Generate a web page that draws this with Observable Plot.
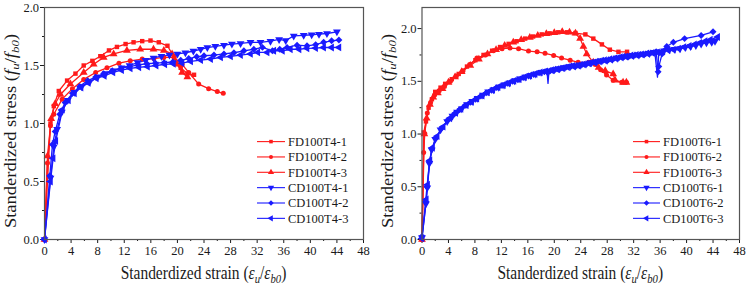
<!DOCTYPE html>
<html><head><meta charset="utf-8">
<script src="https://cdn.jsdelivr.net/npm/d3@7"></script>
<script src="https://cdn.jsdelivr.net/npm/@observablehq/plot@0.6"></script>
<style>
html,body{margin:0;padding:0;background:#fff;}
#wrap{display:flex;width:746px;height:286px;overflow:hidden;}
#wrap svg{flex:none;}
</style></head><body><div id="wrap"></div>
<script>
// ---------- data ----------
const xTicks = [0,4,8,12,16,20,24,28,32,36,40,44,48];
const xMinorTicks = [2,6,10,14,18,22,26,30,34,38,42,46];
const yTicks = [0,0.5,1.0,1.5,2.0];
const yMinorTicks = [0.25,0.75,1.25,1.75];

const namesT4 = ["FD100T4-1","FD100T4-2","FD100T4-3","CD100T4-1","CD100T4-2","CD100T4-3"];
const namesT6 = ["FD100T6-1","FD100T6-2","FD100T6-3","CD100T6-1","CD100T6-2","CD100T6-3"];

const fd100t4_1 = [[0,0],[0.9,1.0],[1.4,1.15],[2.15,1.28],[3.4,1.37],[4.66,1.43],[5.9,1.50],[7.2,1.54],[8.4,1.58],[9.7,1.63],[10.9,1.66],[12.2,1.685],[13.4,1.70],[14.7,1.71],[15.95,1.715],[17.2,1.70],[18.5,1.67],[19.5,1.57],[20.5,1.48],[21.5,1.43],[22.5,1.42]];
const fd100t4_2 = [[0,0],[0.45,0.66],[0.9,0.98],[1.4,1.08],[2.66,1.21],[4.2,1.30],[5.9,1.38],[7.7,1.44],[9.4,1.48],[11.2,1.52],[12.9,1.54],[14.7,1.555],[16.45,1.56],[17.96,1.57],[19.5,1.57],[20.7,1.51],[21.7,1.44],[23.2,1.34],[24.7,1.30],[26,1.275],[26.9,1.26]];
const fd100t4_3 = [[0,0],[0.45,0.72],[1.0,1.04],[1.6,1.17],[2.4,1.25],[3.9,1.34],[5.9,1.44],[7.4,1.51],[8.9,1.57],[10.4,1.60],[12.4,1.63],[14.4,1.64],[16.4,1.64],[17.96,1.63],[19.2,1.60],[19.97,1.51],[20.7,1.44],[21.5,1.40]];
const cd100t4_1 = [[0,0],[0.9,0.53],[1.4,0.8],[1.9,0.95],[2.6,1.1],[3.5,1.2],[4.5,1.27],[5.6,1.32],[6.8,1.36],[8,1.40],[9.2,1.43],[10.4,1.455],[11.6,1.48],[12.8,1.50],[14,1.525],[15.2,1.545],[16.4,1.565],[17.6,1.58],[18.8,1.59],[20,1.60],[21.2,1.61],[22.4,1.625],[23.5,1.64],[24.5,1.655],[25.7,1.665],[27,1.675],[28.2,1.685],[29.5,1.69],[31,1.70],[32.5,1.70],[34,1.71],[35.3,1.725],[36.3,1.715],[37.5,1.755],[39,1.76],[40.2,1.765],[41.3,1.77],[42.5,1.776],[44,1.79]];
const cd100t4_2 = [[0,0],[0.8,0.55],[1.2,0.82],[1.6,0.93],[2.3,1.08],[3.1,1.18],[4.2,1.26],[5.3,1.32],[6.5,1.37],[7.7,1.40],[8.9,1.43],[10.2,1.455],[11.5,1.475],[12.8,1.49],[14.1,1.505],[15.4,1.515],[16.7,1.52],[18,1.525],[19.3,1.53],[20.5,1.545],[21.7,1.56],[22.9,1.575],[24,1.584],[25.5,1.59],[27,1.60],[28.5,1.61],[30,1.627],[31.5,1.64],[32.8,1.656],[34.3,1.627],[35.4,1.64],[36.5,1.656],[38,1.675],[39.5,1.67],[40.8,1.68],[42,1.70],[43.2,1.713],[44.3,1.72]];
const cd100t4_3 = [[0,0],[0.9,0.5],[1.3,0.7],[1.7,0.85],[2.7,1.12],[3.6,1.2],[4.5,1.26],[5.5,1.31],[6.6,1.35],[7.8,1.39],[9.0,1.41],[10.3,1.44],[11.6,1.46],[12.9,1.475],[14.2,1.485],[15.5,1.49],[16.8,1.50],[18.1,1.51],[19.4,1.515],[20.7,1.52],[22,1.535],[23.5,1.547],[25,1.556],[26.5,1.57],[28,1.578],[29.5,1.59],[31,1.60],[32.1,1.613],[33.5,1.613],[34.5,1.627],[35.8,1.627],[37,1.64],[38.3,1.64],[39.5,1.648],[40.8,1.65],[42,1.655],[43.2,1.655],[44.3,1.656]];

const fd100t6_1 = [[0,0],[0.27,1.015],[0.6,1.12],[1.0,1.25],[1.5,1.33],[2.0,1.40],[2.8,1.44],[3.5,1.476],[4.5,1.52],[5.55,1.57],[6.8,1.64],[8.07,1.70],[9.3,1.75],[10.6,1.79],[11.8,1.825],[13.1,1.855],[14.3,1.88],[15.6,1.905],[16.8,1.925],[18.1,1.945],[19.3,1.955],[20.6,1.965],[21.9,1.965],[23.2,1.958],[24.7,1.945],[25.9,1.905],[27.2,1.85],[28.4,1.80],[29.7,1.78],[31.0,1.78]];
const fd100t6_2 = [[0,0],[0.25,0.825],[0.42,1.006],[0.8,1.2],[1.3,1.30],[1.9,1.37],[2.6,1.41],[3.4,1.45],[4.3,1.50],[5.2,1.55],[6.2,1.60],[7.2,1.66],[8.3,1.72],[9.6,1.75],[10.8,1.79],[12.1,1.81],[13.3,1.815],[14.6,1.81],[16.1,1.787],[17.4,1.78],[18.6,1.765],[19.9,1.745],[21.1,1.72],[22.4,1.70],[23.6,1.68],[25.2,1.68],[26.2,1.66],[27,1.61],[27.9,1.56],[28.9,1.51],[30.2,1.49],[30.9,1.49]];
const fd100t6_3 = [[0,0],[0.35,1.0],[0.7,1.15],[1.2,1.28],[1.7,1.35],[2.4,1.39],[3.1,1.43],[4.0,1.49],[5.0,1.54],[6.0,1.59],[7.3,1.65],[8.6,1.71],[9.9,1.76],[11.2,1.80],[12.5,1.84],[13.8,1.87],[15.0,1.895],[16.3,1.915],[17.5,1.935],[18.8,1.95],[20.0,1.96],[21.2,1.97],[22.3,1.965],[23.2,1.955],[23.9,1.905],[24.4,1.83],[24.9,1.76],[25.9,1.68],[26.7,1.63],[27.7,1.60],[28.9,1.57],[29.2,1.51],[30.4,1.49],[30.9,1.49]];
const cd100t6_1 = [[0,0.02],[0.6,0.34],[0.8,0.49],[1.1,0.72],[1.45,0.85],[2.0,0.95],[2.8,1.04],[3.8,1.12],[4.6,1.17],[5.3,1.21],[6.0,1.24],[6.8,1.28],[7.6,1.31],[8.4,1.34],[9.2,1.37],[10.0,1.40],[10.8,1.42],[11.6,1.445],[12.4,1.465],[13.2,1.485],[14.0,1.505],[14.8,1.525],[15.6,1.54],[16.4,1.555],[17.2,1.57],[18.0,1.585],[18.9,1.595],[19.05,1.48],[19.2,1.60],[20.0,1.61],[20.8,1.62],[21.6,1.63],[22.4,1.64],[23.2,1.645],[24.0,1.655],[24.8,1.665],[25.6,1.675],[26.4,1.685],[27.2,1.695],[28.0,1.70],[28.8,1.71],[29.6,1.72],[30.4,1.73],[31.2,1.74],[32.0,1.745],[32.8,1.75],[33.6,1.76],[34.4,1.765],[35.2,1.775],[35.6,1.54],[35.8,1.78],[36.6,1.79],[37.4,1.80],[38.2,1.805],[39.0,1.81],[39.8,1.82],[40.6,1.83],[41.4,1.84],[42.2,1.855],[43.0,1.865],[43.8,1.87],[44.3,1.88]];
const cd100t6_2 = [[0,0.03],[0.55,0.36],[0.75,0.5],[1.15,0.74],[1.5,0.86],[2.1,0.96],[2.9,1.05],[3.9,1.13],[4.9,1.19],[5.7,1.23],[6.5,1.27],[7.3,1.30],[8.1,1.33],[8.9,1.36],[9.7,1.39],[10.5,1.415],[11.3,1.44],[12.1,1.46],[12.9,1.48],[13.7,1.50],[14.5,1.515],[15.3,1.535],[16.1,1.55],[16.9,1.565],[17.7,1.58],[18.5,1.59],[19.4,1.60],[20.2,1.615],[21.0,1.625],[21.8,1.635],[22.6,1.645],[23.4,1.65],[24.2,1.66],[25.0,1.67],[25.8,1.68],[26.6,1.69],[27.4,1.70],[28.2,1.705],[29.0,1.715],[29.8,1.725],[30.6,1.735],[31.4,1.74],[32.2,1.75],[33.0,1.755],[33.8,1.76],[34.6,1.77],[35.4,1.78],[35.7,1.59],[35.8,1.64],[36.3,1.76],[37.0,1.83],[38.0,1.87],[39.7,1.905],[42.2,1.935],[44.0,1.97]];
const cd100t6_3 = [[0,0.01],[0.65,0.38],[0.85,0.52],[1.2,0.75],[1.6,0.87],[2.3,0.98],[3.2,1.07],[4.2,1.15],[5.1,1.20],[5.9,1.24],[6.7,1.275],[7.5,1.305],[8.3,1.335],[9.1,1.365],[9.9,1.395],[10.7,1.42],[11.5,1.445],[12.3,1.465],[13.1,1.485],[13.9,1.505],[14.7,1.52],[15.5,1.54],[16.3,1.555],[17.1,1.57],[17.9,1.585],[18.7,1.595],[19.6,1.605],[20.4,1.615],[21.2,1.625],[22.0,1.635],[22.8,1.645],[23.6,1.65],[24.4,1.66],[25.2,1.67],[26.0,1.68],[26.8,1.69],[27.6,1.70],[28.4,1.71],[29.2,1.72],[30.0,1.73],[30.8,1.735],[31.6,1.745],[32.4,1.75],[33.2,1.755],[34.0,1.765],[34.8,1.77],[35.6,1.775],[36.4,1.785],[37.2,1.795],[38.0,1.80],[38.8,1.81],[39.6,1.825],[40.4,1.835],[41.2,1.85],[42.0,1.865],[42.8,1.88],[43.6,1.895],[44.7,1.92]];

// ---------- styling ----------
const RED = "#ff1a1a", BLUE = "#1a1aff";
const FONT = "Liberation Serif";

const symbolTriDown = {draw(ctx, size){
  const s = Math.sqrt(4*size/Math.sqrt(3)), h = s*Math.sqrt(3)/2;
  ctx.moveTo(-s/2, -h/3); ctx.lineTo(s/2, -h/3); ctx.lineTo(0, 2*h/3); ctx.closePath();
}};
const symbolTriLeft = {draw(ctx, size){
  const s = Math.sqrt(4*size/Math.sqrt(3)), h = s*Math.sqrt(3)/2;
  ctx.moveTo(-2*h/3, 0); ctx.lineTo(h/3, -s/2); ctx.lineTo(h/3, s/2); ctx.closePath();
}};
const symbols = [d3.symbolSquare, d3.symbolCircle, d3.symbolTriangle, symbolTriDown, d3.symbolDiamond2, symbolTriLeft];
const symbolR = [2.5, 2.5, 2.9, 2.9, 3.1, 2.9];
const colors = [RED, RED, RED, BLUE, BLUE, BLUE];

// a marker is not drawn on a one-sample dip of the recorder (thin spike only)
function isSpike(data, i){
  if (i === 0 || i === data.length - 1) return false;
  return data[i][1] < data[i-1][1] - 0.08 && data[i][1] < data[i+1][1] - 0.08;
}

function makePanel(names, datasets, yMax, mL, mR, legendLineX, legendTextX, yCenter, yLabelX, spikeSeries){
  const W = 373, H = 286;
  const marks = [
    Plot.axisX({ticks: xTicks, tickSize: 4, tickPadding: 3, label: null, fontSize: 12.5}),
    Plot.axisX({ticks: xMinorTicks, tickSize: 2, tickFormat: () => "", label: null}),
    Plot.axisY({ticks: yTicks, tickSize: 4, tickPadding: 1.5, label: null, fontSize: 12.5, tickFormat: d3.format(".1f")}),
    Plot.axisY({ticks: yMinorTicks, tickSize: 2, tickFormat: () => "", label: null}),
  ];
  datasets.forEach((data, i) => {
    marks.push(Plot.line(data, {x: d => d[0], y: d => d[1], stroke: colors[i], strokeWidth: 1.3}));
  });
  datasets.forEach((data, i) => {
    const filt = spikeSeries.includes(i) ? data.filter((d, j) => !isSpike(data, j)) : data;
    marks.push(Plot.dot(filt, {x: d => d[0], y: d => d[1], symbol: symbols[i], fill: colors[i], stroke: "none", r: symbolR[i]}));
  });
  marks.push(Plot.frame({stroke: "#555", strokeWidth: 1.2}));
  const svg = Plot.plot({
    width: W, height: H,
    marginLeft: mL, marginRight: mR, marginTop: 7, marginBottom: 47,
    style: `color:#1a1a1a;background:#fff;overflow:visible;font-family:'${FONT}';`,
    x: {domain: [0, 48]},
    y: {domain: [0, yMax]},
    marks
  });
  const g = d3.select(svg);
  g.attr("font-family", FONT);
  // legend
  const rowY0 = 141.6, dy = 15.35;
  names.forEach((name, i) => {
    const y = rowY0 + i*dy;
    g.append("line").attr("x1", legendLineX[0]).attr("x2", legendLineX[1]).attr("y1", y).attr("y2", y)
      .attr("stroke", colors[i]).attr("stroke-width", 1.1);
    g.append("path").attr("transform", `translate(${(legendLineX[0]+legendLineX[1])/2},${y})`)
      .attr("d", d3.symbol(symbols[i], Math.PI*Math.pow(symbolR[i]*0.8,2))()).attr("fill", colors[i]);
    g.append("text").attr("x", legendTextX).attr("y", y + 4.4).attr("font-size", 12.5)
      .attr("text-anchor", "start").attr("fill", "#1a1a1a").text(name);
  });
  // x title (horizontally condensed like the source figure)
  const xc = (mL + (W - mR)) / 2;
  const xt = g.append("text").attr("transform", `translate(${xc},279) scale(0.86,1)`)
    .attr("text-anchor", "middle").attr("font-size", 18).attr("fill", "#1a1a1a");
  xt.append("tspan").text("Standerdized strain (");
  xt.append("tspan").attr("font-style", "italic").text("ε");
  xt.append("tspan").attr("font-style", "italic").attr("font-size", 12.5).attr("dy", 3.5).text("u");
  xt.append("tspan").attr("dy", -3.5).text("/");
  xt.append("tspan").attr("font-style", "italic").text("ε");
  xt.append("tspan").attr("font-style", "italic").attr("font-size", 12.5).attr("dy", 3.5).text("b0");
  xt.append("tspan").attr("dy", -3.5).text(")");
  // y title
  const yt = g.append("text").attr("transform", `translate(${yLabelX},${yCenter}) scale(0.86,1) rotate(-90)`)
    .attr("text-anchor", "middle").attr("font-size", 18.5).attr("fill", "#1a1a1a");
  yt.append("tspan").text("Standerdized stress (");
  yt.append("tspan").attr("font-style", "italic").text("f");
  yt.append("tspan").attr("font-style", "italic").attr("font-size", 13).attr("dy", 3.5).text("u");
  yt.append("tspan").attr("dy", -3.5).text("/");
  yt.append("tspan").attr("font-style", "italic").text("f");
  yt.append("tspan").attr("font-style", "italic").attr("font-size", 13).attr("dy", 3.5).text("b0");
  yt.append("tspan").attr("dy", -3.5).text(")");
  g.selectAll("text").attr("font-family", FONT).style("font-family", `'${FONT}'`);
  return svg;
}

const wrap = document.getElementById("wrap");
wrap.appendChild(makePanel(namesT4, [fd100t4_1, fd100t4_2, fd100t4_3, cd100t4_1, cd100t4_2, cd100t4_3],
  2.0, 44, 10, [257, 285], 288, 131, 16, []));
wrap.appendChild(makePanel(namesT6, [fd100t6_1, fd100t6_2, fd100t6_3, cd100t6_1, cd100t6_2, cd100t6_3],
  2.2, 48.5, 7, [260, 287], 290, 131, 20, [3]));
</script>
</body></html>
